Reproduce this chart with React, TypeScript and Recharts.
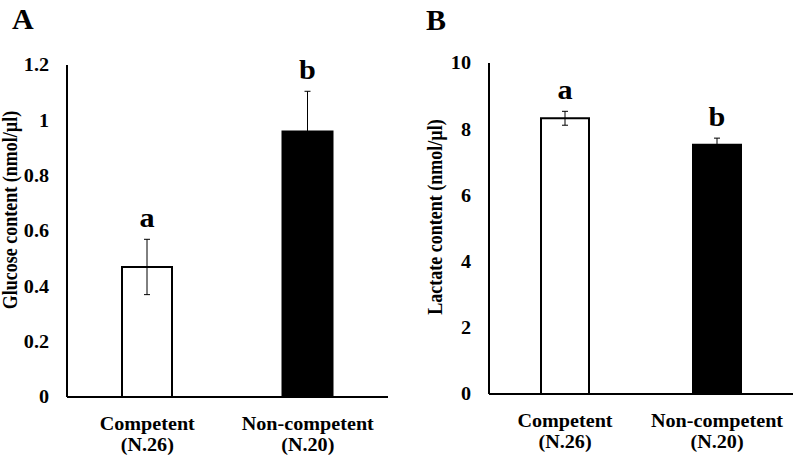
import React from 'react';
import { BarChart, Bar, XAxis, YAxis, ErrorBar, Cell, LabelList, Label } from 'recharts';

const categories = ['Competent', 'Non-competent'];
const groupSizes = ['(N.26)', '(N.20)'];
const glucoseMean = [0.47, 0.96];
const glucoseSE = [0.1, 0.145];
const glucoseLetters = ['a', 'b'];
const lactateMean = [8.33, 7.53];
const lactateSE = [0.21, 0.2];
const lactateLetters = ['a', 'b'];
const glucoseTicks = [0, 0.2, 0.4, 0.6, 0.8, 1, 1.2];
const lactateTicks = [0, 2, 4, 6, 8, 10];

const FONT = '"Liberation Serif", "Times New Roman", serif';
const SX = 1.12;
const barFills = ['#ffffff', '#000000'];

const glucoseData = categories.map((c, i) => ({ name: c, mean: glucoseMean[i], se: glucoseSE[i], letter: glucoseLetters[i] }));
const lactateData = categories.map((c, i) => ({ name: c, mean: lactateMean[i], se: lactateSE[i], letter: lactateLetters[i] }));

const XTick = (props: any) => {
  const { x, y, payload, index } = props;
  return (
    <g transform={`translate(${x},${y})`}>
      <text transform={`scale(${SX},1)`} textAnchor="middle" fontFamily={FONT} fontWeight="bold" fontSize={18} fill="#000">
        <tspan x={0} y={31}>{payload.value}</tspan>
        <tspan x={0} y={52}>{groupSizes[index]}</tspan>
      </text>
    </g>
  );
};

const YTick = (props: any) => {
  const { x, y, payload } = props;
  return (
    <g transform={`translate(${x},${y})`}>
      <text transform={`scale(${SX},1)`} textAnchor="end" dy="0.35em" fontFamily={FONT} fontWeight="bold" fontSize={18} fill="#000">
        {payload.value}
      </text>
    </g>
  );
};

const makeLetter = (means: number[], ses: number[]) => (props: any) => {
  const { x, y, width, height, value, index } = props;
  const px = Number(height) / means[index];
  const top = Number(y) - ses[index] * px;
  return (
    <g transform={`translate(${Number(x) + Number(width) / 2},${top - 12})`}>
      <text transform={`scale(${SX},1)`} textAnchor="middle" fontFamily={FONT} fontWeight="bold" fontSize={27} fill="#000">
        {value}
      </text>
    </g>
  );
};

const yLabel = (text: string, cx: number, cy: number) => () => (
  <text
    transform={`translate(${cx},${cy}) rotate(-90) scale(1,${SX})`}
    textAnchor="middle"
    dominantBaseline="central"
    fontFamily={FONT}
    fontWeight="bold"
    fontSize={18}
    fill="#000"
  >
    {text}
  </text>
);

export default function App() {
  return (
    <div style={{ position: 'absolute', left: 0, top: 0, width: 793, height: 457, background: '#fff', overflow: 'hidden' }}>
      <div style={{ position: 'absolute', left: 0, top: 0 }}>
        <BarChart width={400} height={457} data={glucoseData} margin={{ top: 65, right: 12, bottom: 0, left: 0 }}>
          <XAxis dataKey="name" height={60} axisLine={{ stroke: '#000', strokeWidth: 2 }} tickLine={false} tickSize={0} tick={<XTick />} interval={0} />
          <YAxis width={67} domain={[0, 1.2]} ticks={glucoseTicks} axisLine={{ stroke: '#000', strokeWidth: 2 }} tickLine={false} tickSize={0} tickMargin={18} tick={<YTick />} interval={0}>
            <Label content={yLabel('Glucose content (nmol/µl)', 10, 210)} />
          </YAxis>
          <Bar dataKey="mean" barSize={50} isAnimationActive={false} stroke="#000" strokeWidth={2}>
            {glucoseData.map((d, i) => (
              <Cell key={d.name} fill={barFills[i]} />
            ))}
            <ErrorBar dataKey="se" width={3} stroke="#000" strokeWidth={1} direction="y" isAnimationActive={false} />
            <LabelList dataKey="letter" content={makeLetter(glucoseMean, glucoseSE)} />
          </Bar>
        </BarChart>
      </div>
      <div style={{ position: 'absolute', left: 400, top: 0 }}>
        <BarChart width={393} height={457} data={lactateData} margin={{ top: 63, right: 0, bottom: 0, left: 0 }}>
          <XAxis dataKey="name" height={63} axisLine={{ stroke: '#000', strokeWidth: 2 }} tickLine={false} tickSize={0} tick={<XTick />} interval={0} />
          <YAxis width={89} domain={[0, 10]} ticks={lactateTicks} axisLine={{ stroke: '#000', strokeWidth: 2 }} tickLine={false} tickSize={0} tickMargin={18} tick={<YTick />} interval={0}>
            <Label content={yLabel('Lactate content (nmol/µl)', 35, 217)} />
          </YAxis>
          <Bar dataKey="mean" barSize={48} isAnimationActive={false} stroke="#000" strokeWidth={2}>
            {lactateData.map((d, i) => (
              <Cell key={d.name} fill={barFills[i]} />
            ))}
            <ErrorBar dataKey="se" width={3} stroke="#000" strokeWidth={1} direction="y" isAnimationActive={false} />
            <LabelList dataKey="letter" content={makeLetter(lactateMean, lactateSE)} />
          </Bar>
        </BarChart>
      </div>
      <svg width={793} height={457} style={{ position: 'absolute', left: 0, top: 0, pointerEvents: 'none' }}>
        <text x={12} y={29} fontFamily={FONT} fontWeight="bold" fontSize={30} fill="#000">A</text>
        <text x={426} y={30} fontFamily={FONT} fontWeight="bold" fontSize={30} fill="#000">B</text>
      </svg>
    </div>
  );
}
